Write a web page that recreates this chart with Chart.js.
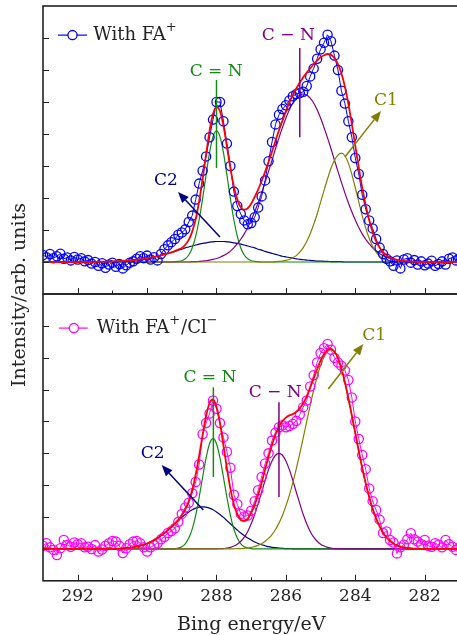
<!DOCTYPE html>
<html lang="en">
<head>
<meta charset="utf-8">
<title>C 1s spectra</title>
<script src="https://cdn.jsdelivr.net/npm/chart.js@4.4.1/dist/chart.umd.min.js"></script>
<style>
  html, body
  {
    margin: 0;
    padding: 0;
    background: #ffffff;
    overflow: hidden;
  }

  #page
  {
    position: relative;
    width: 457px;
    height: 635px;
    overflow: hidden;
    background: #ffffff;
  }

  #page canvas
  {
    position: absolute;
    left: 0;
  }

  #y-title
  {
    position: absolute;
    left: 18px;
    top: 295px;
    transform: translate(-50%, -50%) rotate(-90deg);
    white-space: nowrap;
    font: 19px "DejaVu Serif";
    color: #222222;
  }
</style>
</head>
<body>
<div id="page">
  <canvas id="chart-fa" width="470" height="300" style="top: 0px;"></canvas>
  <canvas id="chart-facl" width="470" height="349" style="top: 288px;"></canvas>
  <div id="y-title">Intensity/arb. units</div>
</div>
<script>
const Chart = window.Chart;

const energyMax = 293;
const energyMin = 281;
const energyStep = 0.1;
const intensityMin = -1;
const intensityMax = 8;

// measured spectra, one point every 0.1 eV from 293 eV down to 281 eV
const withFA = [
  0.22, 0.15, 0.25, 0.12, 0.18, 0.26, 0.10, 0.14, 0.05, 0.16,
  0.08, 0.12, 0.02, 0.06, -0.05, 0.00, -0.12, -0.04, -0.18, -0.08,
  -0.02, -0.15, -0.06, -0.20, -0.10, -0.02, 0.02, 0.10, 0.18, 0.12,
  0.20, 0.08, 0.15, 0.05, 0.25, 0.40, 0.52, 0.62, 0.72, 0.85,
  0.92, 1.02, 1.25, 1.45, 1.95, 2.45, 2.85, 3.30, 3.90, 4.45,
  5.00, 5.00, 4.40, 3.70, 3.00, 2.20, 1.75, 1.50, 1.30, 1.18,
  1.22, 1.40, 1.70, 2.05, 2.55, 3.15, 3.75, 4.30, 4.60, 4.78,
  4.90, 5.05, 5.18, 5.25, 5.28, 5.32, 5.50, 5.80, 6.05, 6.35,
  6.65, 6.85, 7.10, 6.90, 6.45, 6.00, 5.35, 4.95, 4.40, 3.90,
  3.25, 2.75, 2.10, 1.65, 1.30, 1.05, 0.72, 0.45, 0.25, 0.10,
  0.02, -0.12, 0.05, -0.20, 0.08, 0.12, -0.02, 0.06, -0.08, 0.02,
  -0.10, -0.05, 0.04, -0.12, -0.06, 0.02, -0.08, 0.10, 0.14, 0.05,
  0.12,
];

const withFACl = [
  0.10, 0.18, 0.05, -0.03, -0.19, 0.02, 0.28, 0.12, 0.07, 0.20,
  0.15, 0.18, 0.05, 0.07, 0.00, 0.12, -0.08, -0.02, 0.10, 0.18,
  0.25, 0.23, 0.10, -0.13, 0.02, 0.15, 0.23, 0.25, 0.18, 0.05,
  -0.08, 0.05, 0.12, 0.18, 0.30, 0.38, 0.50, 0.56, 0.65, 0.85,
  1.10, 1.30, 1.45, 1.75, 2.10, 2.65, 3.60, 3.95, 4.25, 4.66,
  4.40, 3.95, 3.50, 3.05, 2.55, 1.70, 1.40, 1.10, 1.02, 1.05,
  1.20, 1.50, 1.84, 2.26, 2.68, 3.00, 3.40, 3.65, 3.82, 3.88,
  3.82, 3.86, 3.92, 4.02, 4.22, 4.45, 4.66, 5.10, 5.45, 5.85,
  6.15, 6.30, 6.43, 6.25, 6.00, 5.85, 5.75, 5.60, 5.30, 4.75,
  4.00, 3.45, 2.95, 2.50, 1.90, 1.50, 1.22, 0.92, 0.50, 0.55,
  0.28, 0.20, -0.14, 0.05, 0.13, 0.30, 0.49, 0.30, 0.23, 0.15,
  0.28, 0.10, 0.07, 0.18, 0.13, 0.05, 0.28, 0.15, 0.07, -0.03,
  0.05,
];

// fitted envelope and peaks: start energy, then one value every 0.1 eV
const fitFAStart = 291.5;
const fitFA = [
  0.00, 0.01, 0.01, 0.01, 0.01, 0.02, 0.02, 0.03, 0.03, 0.04,
  0.05, 0.06, 0.07, 0.08, 0.10, 0.12, 0.14, 0.16, 0.18, 0.21,
  0.24, 0.27, 0.30, 0.34, 0.39, 0.44, 0.54, 0.69, 0.95, 1.34,
  1.90, 2.59, 3.36, 4.10, 4.63, 4.85, 4.71, 4.26, 3.61, 2.94,
  2.36, 1.95, 1.71, 1.63, 1.68, 1.82, 2.03, 2.26, 2.53, 2.82,
  3.13, 3.45, 3.79, 4.11, 4.41, 4.71, 4.98, 5.22, 5.42, 5.61,
  5.77, 5.92, 6.05, 6.18, 6.29, 6.40, 6.46, 6.50, 6.48, 6.37,
  6.18, 5.90, 5.48, 4.94, 4.31, 3.63, 2.96, 2.32, 1.77, 1.31,
  0.93, 0.65, 0.45, 0.31, 0.21, 0.14, 0.10, 0.07, 0.04, 0.03,
  0.02, 0.01, 0.01, 0.00,
];

const cnDoubleFAStart = 289.3;
const cnDoubleFA = [
  0.00, 0.01, 0.02, 0.04, 0.10, 0.22, 0.44, 0.80, 1.32, 1.98,
  2.72, 3.42, 3.92, 4.10, 3.92, 3.42, 2.72, 1.98, 1.32, 0.80,
  0.44, 0.22, 0.10, 0.04, 0.02, 0.01, 0.00,
];

const cnSingleFAStart = 288.8;
const cnSingleFA = [
  0.00, 0.01, 0.01, 0.02, 0.03, 0.04, 0.06, 0.08, 0.11, 0.15,
  0.20, 0.26, 0.34, 0.44, 0.57, 0.71, 0.88, 1.08, 1.31, 1.57,
  1.85, 2.16, 2.49, 2.83, 3.18, 3.54, 3.88, 4.20, 4.50, 4.76,
  4.97, 5.12, 5.22, 5.25, 5.22, 5.12, 4.97, 4.76, 4.50, 4.20,
  3.88, 3.54, 3.18, 2.83, 2.49, 2.16, 1.85, 1.57, 1.31, 1.08,
  0.88, 0.71, 0.57, 0.44, 0.34, 0.26, 0.20, 0.15, 0.11, 0.08,
  0.06, 0.04, 0.03, 0.02, 0.01, 0.01, 0.00,
];

const c1FAStart = 286.4;
const c1FA = [
  0.00, 0.01, 0.02, 0.03, 0.05, 0.08, 0.13, 0.20, 0.31, 0.45,
  0.64, 0.88, 1.17, 1.50, 1.87, 2.24, 2.60, 2.93, 3.18, 3.34,
  3.40, 3.32, 3.09, 2.74, 2.32, 1.88, 1.44, 1.06, 0.74, 0.49,
  0.31, 0.19, 0.11, 0.06, 0.03, 0.02, 0.01, 0.00,
];

const c2FAStart = 291.5;
const c2FA = [
  0.00, 0.01, 0.01, 0.01, 0.01, 0.02, 0.02, 0.03, 0.03, 0.04,
  0.05, 0.06, 0.07, 0.08, 0.10, 0.12, 0.14, 0.16, 0.18, 0.21,
  0.24, 0.27, 0.30, 0.33, 0.37, 0.40, 0.44, 0.47, 0.50, 0.53,
  0.56, 0.58, 0.60, 0.62, 0.63, 0.64, 0.64, 0.64, 0.63, 0.62,
  0.60, 0.58, 0.56, 0.53, 0.50, 0.47, 0.44, 0.40, 0.37, 0.33,
  0.30, 0.27, 0.24, 0.21, 0.18, 0.16, 0.14, 0.12, 0.10, 0.08,
  0.07, 0.06, 0.05, 0.04, 0.03, 0.03, 0.02, 0.02, 0.01, 0.01,
  0.01, 0.01, 0.00,
];

const fitFAClStart = 291.0;
const fitFACl = [
  0.00, 0.01, 0.01, 0.02, 0.03, 0.04, 0.05, 0.07, 0.10, 0.13,
  0.17, 0.22, 0.28, 0.34, 0.42, 0.50, 0.59, 0.69, 0.80, 0.92,
  1.06, 1.24, 1.50, 1.85, 2.33, 2.93, 3.57, 4.17, 4.58, 4.69,
  4.46, 3.95, 3.25, 2.54, 1.89, 1.40, 1.09, 0.91, 0.88, 0.95,
  1.13, 1.38, 1.70, 2.07, 2.49, 2.89, 3.26, 3.59, 3.84, 4.01,
  4.12, 4.19, 4.23, 4.30, 4.41, 4.57, 4.79, 5.06, 5.35, 5.64,
  5.91, 6.12, 6.24, 6.28, 6.19, 5.99, 5.66, 5.23, 4.73, 4.19,
  3.63, 3.07, 2.54, 2.06, 1.63, 1.26, 0.96, 0.71, 0.51, 0.36,
  0.25, 0.17, 0.11, 0.07, 0.05, 0.03, 0.02, 0.01, 0.01, 0.00,
];

const cnDoubleFAClStart = 289.3;
const cnDoubleFACl = [
  0.00, 0.01, 0.03, 0.07, 0.16, 0.34, 0.62, 1.05, 1.62, 2.25,
  2.86, 3.30, 3.46, 3.30, 2.86, 2.25, 1.62, 1.05, 0.62, 0.34,
  0.16, 0.07, 0.03, 0.01, 0.00,
];

const cnSingleFAClStart = 288.0;
const cnSingleFACl = [
  0.00, 0.01, 0.01, 0.03, 0.05, 0.09, 0.15, 0.24, 0.37, 0.55,
  0.79, 1.08, 1.42, 1.78, 2.15, 2.49, 2.76, 2.94, 3.00, 2.94,
  2.76, 2.49, 2.15, 1.78, 1.42, 1.08, 0.79, 0.55, 0.37, 0.24,
  0.15, 0.09, 0.05, 0.03, 0.01, 0.01, 0.00,
];

const c1FAClStart = 287.5;
const c1FACl = [
  0.00, 0.01, 0.01, 0.02, 0.03, 0.05, 0.08, 0.11, 0.16, 0.24,
  0.33, 0.45, 0.61, 0.81, 1.05, 1.35, 1.69, 2.08, 2.52, 2.99,
  3.49, 4.00, 4.51, 4.98, 5.40, 5.76, 6.03, 6.19, 6.25, 6.18,
  5.98, 5.66, 5.23, 4.73, 4.19, 3.63, 3.07, 2.54, 2.06, 1.63,
  1.26, 0.96, 0.71, 0.51, 0.36, 0.25, 0.17, 0.11, 0.07, 0.05,
  0.03, 0.02, 0.01, 0.01, 0.00,
];

const c2FAClStart = 291.0;
const c2FACl = [
  0.00, 0.01, 0.01, 0.02, 0.03, 0.04, 0.05, 0.07, 0.10, 0.13,
  0.17, 0.22, 0.28, 0.34, 0.42, 0.50, 0.59, 0.69, 0.79, 0.89,
  0.99, 1.08, 1.16, 1.23, 1.28, 1.31, 1.32, 1.31, 1.28, 1.23,
  1.16, 1.08, 0.99, 0.89, 0.79, 0.69, 0.59, 0.50, 0.42, 0.34,
  0.28, 0.22, 0.17, 0.13, 0.10, 0.07, 0.05, 0.04, 0.03, 0.02,
  0.01, 0.01, 0.00,
];

const colors = {
  fa: "#0000ff",
  facl: "#ff00ff",
  fit: "#ff0000",
  cnDouble: "#138a13",
  cnSingle: "#800080",
  c1: "#808000",
  c2: "#000080",
  axis: "#222222",
};

const fontFamily = "'DejaVu Serif'";
const fontSize = 17;
const legendFontSize = 18;
const titleFontSize = 19;

// peak labels, placed in data units (eV, intensity)
const marksFA = [
  {text: "C = N", color: colors.cnDouble, x: 288.01, y: 5.94, line: [288.0, 5.69, 288.0, 2.94]},
  {text: "C \u2212 N", color: colors.cnSingle, x: 285.93, y: 7.07, line: [285.6, 6.69, 285.6, 3.9]},
  {text: "C1", color: colors.c1, x: 283.12, y: 5.06, arrow: [284.3, 3.28, 283.26, 4.72]},
  {text: "C2", color: colors.c2, x: 289.46, y: 2.53, arrow: [287.9, 0.78, 289.11, 2.19]},
];

const marksFACl = [
  {text: "C = N", color: colors.cnDouble, x: 288.19, y: 5.39, line: [288.09, 5.07, 288.09, 2.26]},
  {text: "C \u2212 N", color: colors.cnSingle, x: 286.31, y: 4.92, line: [286.2, 4.6, 286.2, 1.63]},
  {text: "C1", color: colors.c1, x: 283.46, y: 6.69, arrow: [284.78, 5.02, 283.77, 6.43]},
  {text: "C2", color: colors.c2, x: 289.84, y: 2.98, arrow: [288.38, 1.22, 289.58, 2.63]},
];

const legendFA = {
  color: colors.fa,
  y: 7.09,
  from: 292.57,
  to: 291.73,
  marker: 292.15,
  textAt: 291.55,
  parts: [{text: "With FA"}, {text: "+", sup: true}],
};

const legendFACl = {
  color: colors.facl,
  y: 6.93,
  from: 292.54,
  to: 291.71,
  marker: 292.11,
  textAt: 291.45,
  parts: [{text: "With FA"}, {text: "+", sup: true}, {text: "/Cl"}, {text: "\u2212", sup: true}],
};

function toPoints(start, values)
{
  return values.map((y, i) => ({x: +(start - i * energyStep).toFixed(2), y: y}));
}

function padded(start, values)
{
  return [{x: energyMax, y: 0}, ...toPoints(start, values), {x: energyMin, y: 0}];
}

function componentSet(label, start, values, color)
{
  return {
    label: label,
    data: padded(start, values),
    borderColor: color,
    borderWidth: 1.2,
    pointRadius: 0,
    fill: false,
    cubicInterpolationMode: "monotone",
    order: 3,
  };
}

function fitSet(start, values)
{
  return {
    label: "fit",
    data: padded(start, values),
    borderColor: colors.fit,
    borderWidth: 1.8,
    pointRadius: 0,
    fill: false,
    cubicInterpolationMode: "monotone",
    order: 1,
  };
}

function measuredSet(label, values, color)
{
  return {
    label: label,
    data: toPoints(energyMax, values),
    borderColor: color,
    borderWidth: 1,
    pointRadius: 4.6,
    pointBorderWidth: 1.3,
    pointBorderColor: color,
    pointBackgroundColor: "rgba(255, 255, 255, 0)",
    tension: 0,
    fill: false,
    order: 2,
  };
}

function strokeLine(ctx, x1, y1, x2, y2)
{
  ctx.beginPath();
  ctx.moveTo(x1, y1);
  ctx.lineTo(x2, y2);
  ctx.stroke();
}

function drawParts(ctx, parts, x, y, color)
{
  ctx.fillStyle = color;
  ctx.textBaseline = "middle";
  ctx.textAlign = "left";
  let cursor = x;
  for (const part of parts)
  {
    ctx.font = part.sup ? `13px ${fontFamily}` : `${legendFontSize}px ${fontFamily}`;
    ctx.fillText(part.text, cursor, part.sup ? y - 7 : y);
    cursor += ctx.measureText(part.text).width + (part.sup ? 1 : 0);
  }
}

// frame with inward tick marks, as in the printed figure
const framePlugin = {
  id: "frame",
  afterDatasetsDraw(chart)
  {
    const {ctx, chartArea: area, scales} = chart;
    ctx.save();
    ctx.strokeStyle = colors.axis;
    ctx.lineWidth = 1;

    for (const tick of scales.y.ticks)
    {
      if (tick.value <= intensityMin || tick.value >= intensityMax)
        continue;
      const py = Math.round(scales.y.getPixelForValue(tick.value)) + 0.5;
      strokeLine(ctx, area.left, py, area.left + 6, py);
    }

    for (const tick of scales.x.ticks)
    {
      if (tick.value <= energyMin || tick.value >= energyMax)
        continue;
      const px = Math.round(scales.x.getPixelForValue(tick.value)) + 0.5;
      const length = tick.value % 2 === 0 ? 6 : 3.5;
      strokeLine(ctx, px, area.bottom, px, area.bottom - length);
    }

    ctx.lineWidth = 1.6;
    ctx.strokeRect(area.left, area.top, area.right - area.left, area.bottom - area.top);
    ctx.restore();
  },
};

// peak names, pointer lines/arrows and the in-plot legend
const marksPlugin = {
  id: "marks",
  afterDatasetsDraw(chart, args, options)
  {
    const {ctx, scales} = chart;
    const px = (v) => scales.x.getPixelForValue(v);
    const py = (v) => scales.y.getPixelForValue(v);
    ctx.save();

    for (const mark of options.items)
    {
      ctx.strokeStyle = mark.color;
      ctx.fillStyle = mark.color;
      ctx.lineWidth = 1.5;
      if (mark.line)
      {
        const [x1, y1, x2, y2] = mark.line;
        strokeLine(ctx, px(x1), py(y1), px(x2), py(y2));
      }
      if (mark.arrow)
      {
        const [x1, y1, x2, y2] = mark.arrow;
        const ax = px(x1), ay = py(y1), bx = px(x2), by = py(y2);
        const angle = Math.atan2(by - ay, bx - ax);
        const head = 11;
        const half = 4.5;
        const baseX = bx - head * Math.cos(angle);
        const baseY = by - head * Math.sin(angle);
        strokeLine(ctx, ax, ay, baseX, baseY);
        ctx.beginPath();
        ctx.moveTo(bx, by);
        ctx.lineTo(baseX + half * Math.sin(angle), baseY - half * Math.cos(angle));
        ctx.lineTo(baseX - half * Math.sin(angle), baseY + half * Math.cos(angle));
        ctx.closePath();
        ctx.fill();
      }
      ctx.font = `${fontSize}px ${fontFamily}`;
      ctx.textAlign = "center";
      ctx.textBaseline = "middle";
      ctx.fillText(mark.text, px(mark.x), py(mark.y));
    }

    const legend = options.legend;
    const ly = py(legend.y);
    ctx.strokeStyle = legend.color;
    ctx.lineWidth = 1.2;
    strokeLine(ctx, px(legend.from), ly, px(legend.to), ly);
    ctx.fillStyle = "#ffffff";
    ctx.lineWidth = 1.3;
    ctx.beginPath();
    ctx.arc(px(legend.marker), ly, 4.6, 0, Math.PI * 2);
    ctx.fill();
    ctx.stroke();
    drawParts(ctx, legend.parts, px(legend.textAt), ly, colors.axis);

    ctx.restore();
  },
};

function hiddenAxis(min, max)
{
  return {
    type: "linear",
    min: min,
    max: max,
    display: true,
    grid: {display: false, drawTicks: false},
    border: {display: false},
    ticks: {display: false, stepSize: 1, autoSkip: false},
  };
}

function createPanel(canvasId, datasets, marks, legend, withAxis)
{
  const x = hiddenAxis(energyMin, energyMax);
  x.reverse = true;
  if (withAxis)
  {
    x.ticks = {
      display: true,
      stepSize: 1,
      autoSkip: false,
      maxRotation: 0,
      padding: 6,
      color: colors.axis,
      font: {family: fontFamily, size: fontSize},
      callback: (value) => (value % 2 === 0 ? String(value) : ""),
    };
    x.title = {
      display: true,
      text: "Bing energy/eV",
      color: colors.axis,
      font: {family: fontFamily, size: titleFontSize},
      padding: {top: 0, bottom: 1},
    };
  }

  const config = {
    type: "line",
    data: {datasets: datasets},
    options: {
      responsive: false,
      animation: false,
      devicePixelRatio: 1,
      layout: {
        padding: {left: 43, right: 10.6, top: 6, bottom: withAxis ? 0 : 6},
      },
      plugins: {
        legend: {display: false},
        tooltip: {enabled: false},
        marks: {items: marks, legend: legend},
      },
      scales: {
        x: x,
        y: hiddenAxis(intensityMin, intensityMax),
      },
    },
    plugins: [framePlugin, marksPlugin],
  };

  return new Chart(document.getElementById(canvasId), config);
}

createPanel("chart-fa", [
  fitSet(fitFAStart, fitFA),
  measuredSet("With FA+", withFA, colors.fa),
  componentSet("C1", c1FAStart, c1FA, colors.c1),
  componentSet("C-N", cnSingleFAStart, cnSingleFA, colors.cnSingle),
  componentSet("C=N", cnDoubleFAStart, cnDoubleFA, colors.cnDouble),
  componentSet("C2", c2FAStart, c2FA, colors.c2),
], marksFA, legendFA, false);

createPanel("chart-facl", [
  fitSet(fitFAClStart, fitFACl),
  measuredSet("With FA+/Cl-", withFACl, colors.facl),
  componentSet("C1", c1FAClStart, c1FACl, colors.c1),
  componentSet("C-N", cnSingleFAClStart, cnSingleFACl, colors.cnSingle),
  componentSet("C=N", cnDoubleFAClStart, cnDoubleFACl, colors.cnDouble),
  componentSet("C2", c2FAClStart, c2FACl, colors.c2),
], marksFACl, legendFACl, true);
</script>
</body>
</html>
